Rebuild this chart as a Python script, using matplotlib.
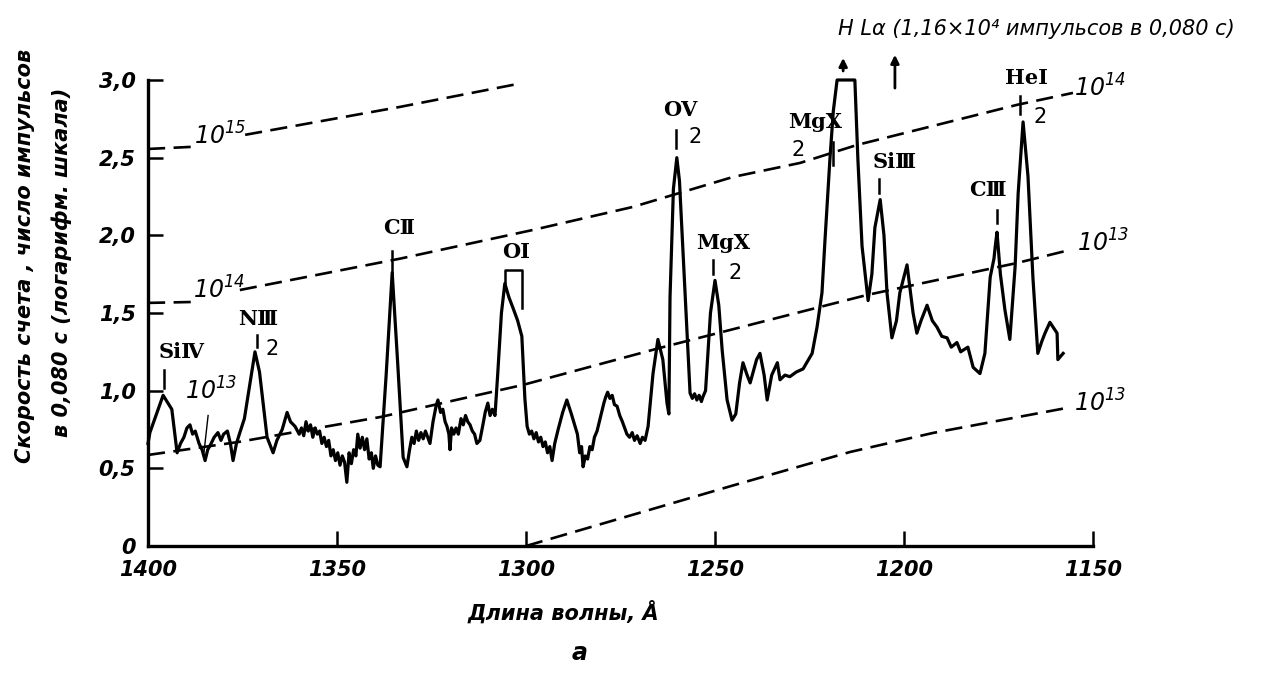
import matplotlib
matplotlib.use("Agg")
import matplotlib.pyplot as plt

plt.rcParams['font.family'] = ['DejaVu Sans']
plt.rcParams['mathtext.fontset'] = 'custom'
plt.rcParams['mathtext.rm'] = 'DejaVu Sans:italic'
plt.rcParams['mathtext.it'] = 'DejaVu Sans:italic'

# ---- spectrum: wavelength (Angstrom) and count rate (log scale units) ----
wavelength = [
    1400.0, 1399.5, 1396.0, 1393.7, 1392.3, 1391.4, 1390.5, 1389.7, 1388.9, 1388.2,
    1387.5, 1386.5, 1385.7, 1384.9, 1384.2, 1383.5, 1382.5, 1381.5, 1380.7, 1380.0,
    1379.0, 1378.2, 1377.5, 1376.6, 1375.7, 1374.5, 1373.0, 1371.7, 1370.5, 1368.5,
    1366.9, 1365.9, 1364.5, 1363.2, 1362.3, 1361.1, 1360.0,
    1359.4, 1358.8, 1358.2, 1357.6, 1357.0, 1356.4, 1355.8, 1355.2, 1354.6, 1354.0,
    1353.4, 1352.8, 1352.2, 1351.6, 1351.0, 1350.4, 1349.8, 1349.2, 1348.6, 1348.0,
    1347.4, 1346.8, 1346.2, 1345.6, 1345.0, 1344.5, 1343.9, 1343.3, 1342.7, 1342.1,
    1341.5, 1340.9, 1340.4, 1339.8, 1339.2, 1338.6,
    1337.0, 1335.4, 1334.0, 1332.5,
    1331.5, 1330.8, 1330.2, 1329.6, 1329.0, 1328.4, 1327.8, 1327.2, 1326.6, 1326.0,
    1325.4, 1324.6, 1323.8, 1323.3, 1322.6, 1322.0, 1321.4, 1320.9, 1320.4, 1320.1,
    1319.7, 1319.1, 1318.5, 1317.9, 1317.2, 1316.6, 1316.0, 1315.4, 1314.8, 1314.2,
    1313.6, 1313.0, 1312.2, 1311.4, 1310.8, 1310.1, 1309.5, 1308.9, 1308.2,
    1307.5, 1306.5, 1305.6, 1304.5, 1303.4, 1302.2, 1301.1, 1300.3,
    1299.7, 1299.1, 1298.5, 1297.9, 1297.3, 1296.7, 1296.1, 1295.5, 1294.9, 1294.3,
    1293.7, 1293.1, 1292.4,
    1291.5, 1290.3, 1289.2, 1288.0, 1287.0,
    1286.4, 1285.8, 1285.3, 1284.9, 1284.3, 1283.7, 1283.1, 1282.5, 1281.9, 1281.2,
    1280.6, 1280.0, 1279.4, 1278.9, 1278.4, 1277.8, 1277.2, 1276.6, 1275.9, 1275.2,
    1274.5, 1273.9, 1273.3, 1272.6, 1271.9, 1271.3, 1270.6, 1269.8, 1269.2, 1268.5,
    1267.7,
    1266.4, 1265.1, 1263.8, 1262.7, 1262.2, 1261.9, 1261.0, 1260.1, 1259.4, 1258.7,
    1257.4,
    1256.6, 1256.0, 1255.4, 1254.8, 1254.2, 1253.6, 1253.2, 1252.5,
    1251.2, 1250.0, 1249.0, 1248.1, 1246.8, 1245.5, 1244.5, 1243.5, 1242.6, 1241.5,
    1240.7, 1239.0, 1238.1, 1237.0, 1236.2, 1235.0, 1233.5, 1232.8, 1231.5, 1230.2,
    1228.5, 1226.7, 1224.3, 1223.0, 1221.7, 1220.9, 1219.6, 1218.7, 1217.7, 1213.0,
    1212.2, 1211.1, 1209.5, 1208.5, 1207.7, 1206.3, 1205.3, 1204.5, 1203.2, 1202.0,
    1201.1, 1199.2, 1197.6, 1196.6, 1195.5, 1193.9, 1192.5, 1191.3, 1190.0, 1188.6,
    1187.5, 1186.0, 1185.0, 1184.4, 1183.1, 1181.7, 1179.9, 1178.6, 1177.2, 1176.2,
    1175.9, 1175.4, 1174.5, 1173.3, 1172.0, 1170.6, 1169.8, 1168.5, 1167.2, 1165.9,
    1164.6, 1163.5, 1162.7, 1161.4, 1160.3, 1159.5, 1159.3, 1157.9,
]
counts = [
    0.66, 0.73, 0.97, 0.88, 0.60, 0.66, 0.70, 0.76, 0.78, 0.72,
    0.74, 0.66, 0.62, 0.55, 0.62, 0.65, 0.70, 0.73, 0.68, 0.72,
    0.74, 0.66, 0.55, 0.66, 0.73, 0.82, 1.05, 1.25, 1.12, 0.70,
    0.60, 0.68, 0.75, 0.86, 0.80, 0.77, 0.72,
    0.76, 0.71, 0.80, 0.74, 0.78, 0.70, 0.76, 0.72, 0.74, 0.66,
    0.70, 0.64, 0.68, 0.58, 0.62, 0.55, 0.60, 0.52, 0.58, 0.54,
    0.41, 0.60, 0.53, 0.62, 0.58, 0.72, 0.63, 0.70, 0.62, 0.69,
    0.56, 0.60, 0.50, 0.58, 0.52, 0.51,
    1.10, 1.76, 1.20, 0.57,
    0.51, 0.62, 0.70, 0.66, 0.74, 0.68, 0.73, 0.69, 0.74, 0.70,
    0.66, 0.80, 0.90, 0.94, 0.86, 0.88, 0.80, 0.77, 0.72, 0.62,
    0.76, 0.72, 0.76, 0.72, 0.82, 0.78, 0.84, 0.80, 0.78, 0.74,
    0.72, 0.66, 0.68, 0.78, 0.86, 0.92, 0.84, 0.88, 0.84,
    1.10, 1.50, 1.69, 1.60, 1.53, 1.45, 1.35, 0.95,
    0.77, 0.72, 0.74, 0.69, 0.73, 0.67, 0.70, 0.64, 0.67, 0.60,
    0.64, 0.55, 0.66,
    0.75, 0.86, 0.94, 0.85, 0.77,
    0.72, 0.60, 0.64, 0.51, 0.58, 0.56, 0.64, 0.62, 0.70, 0.74,
    0.80, 0.86, 0.92, 0.96, 0.99, 0.95, 0.97, 0.91, 0.90, 0.84,
    0.80, 0.76, 0.72, 0.70, 0.73, 0.68, 0.71, 0.66, 0.70, 0.68,
    0.77,
    1.11, 1.33, 1.20, 0.92, 0.85, 1.60, 2.30, 2.50, 2.35, 2.01,
    1.37,
    0.985, 0.95, 0.98, 0.94, 0.97, 0.93, 0.96, 1.00,
    1.50, 1.71, 1.55, 1.26, 0.94, 0.81, 0.85, 1.05, 1.18, 1.10,
    1.05, 1.20, 1.24, 1.10, 0.94, 1.10, 1.18, 1.07, 1.10, 1.09,
    1.12, 1.14, 1.24, 1.41, 1.63, 1.97, 2.49, 2.80, 3.00, 3.00,
    2.49, 1.93, 1.58, 1.75, 2.05, 2.23, 2.00, 1.63, 1.34, 1.45,
    1.63, 1.81, 1.50, 1.37, 1.45, 1.55, 1.45, 1.41, 1.35, 1.34,
    1.28, 1.31, 1.25, 1.26, 1.28, 1.15, 1.11, 1.24, 1.73, 1.85,
    1.92, 2.02, 1.75, 1.52, 1.33, 1.80, 2.27, 2.73, 2.38, 1.73,
    1.24, 1.32, 1.37, 1.44, 1.40, 1.37, 1.20, 1.24,
]

# ---- curves of constant emission measure (dashed), split where labelled ----
em15_wl = [1400.0, 1388.1, 1374.3, 1333.3, 1302.1]
em15_val = [2.556, 2.570, 2.647, 2.827, 2.975]
em15_gap = 2            # index where the curve resumes after its label

em14_wl = [1400.0, 1388.1, 1375.7, 1333.3, 1298.1, 1271.7, 1245.2, 1227.5,
           1212.4, 1170.1, 1155.3]
em14_val = [1.565, 1.571, 1.648, 1.850, 2.035, 2.183, 2.376, 2.466,
            2.582, 2.840, 2.917]
em14_gap = 2

em13_wl = [1400.0, 1376.0, 1338.6, 1300.8, 1264.6, 1222.2, 1209.8, 1170.1, 1156.1]
em13_val = [0.586, 0.670, 0.830, 1.037, 1.275, 1.539, 1.616, 1.822, 1.906]

em12_wl = [1300.0, 1245.2, 1214.3, 1192.3, 1156.9]
em12_val = [0.000, 0.390, 0.605, 0.728, 0.889]

# ---- axis ticks ----
yticks = [0, 0.5, 1.0, 1.5, 2.0, 2.5, 3.0]
ytick_labels = ['0', '0,5', '1,0', '1,5', '2,0', '2,5', '3,0']
xticks = [1400, 1350, 1300, 1250, 1200, 1150]
xtick_labels = ['1400', '1350', '1300', '1250', '1200', '1150']

# ---- line identifications ----
ion_names = ['SiⅣ', 'NⅢ', 'CⅡ', 'OⅠ', 'OⅤ', 'MgⅩ', 'MgⅩ', 'SiⅢ', 'CⅢ', 'HeⅠ']
ion_label_wl = [1391.0, 1370.9, 1333.6, 1302.6, 1259.3, 1247.9, 1223.5, 1202.4, 1177.8, 1167.5]
ion_label_y = [1.25, 1.46, 2.05, 1.89, 2.81, 1.95, 2.73, 2.47, 2.29, 3.01]
ion_tick_wl = [1395.8, 1371.2, 1335.4, None, 1260.3, 1250.5, 1218.8, 1206.6, 1175.4, 1169.3]
ion_tick_lo = [1.02, 1.28, 1.76, None, 2.56, 1.75, 2.45, 2.27, 2.08, 2.78]
ion_tick_hi = [1.13, 1.36, 1.90, None, 2.68, 1.84, 2.60, 2.36, 2.16, 2.90]
# second-order markers ("2")
order2_wl = [1367.2, 1255.3, 1244.7, 1228.0, 1164.0]
order2_y = [1.27, 2.63, 1.76, 2.55, 2.76]

# ---- emission-measure labels ----
em_labels = [r'$10^{15}$', r'$10^{14}$', r'$10^{13}$',
             r'$10^{14}$', r'$10^{13}$', r'$10^{13}$']
em_label_wl = [1381.0, 1381.2, 1383.3, 1148.1, 1147.4, 1148.1]
em_label_y = [2.64, 1.65, 1.00, 2.95, 1.95, 0.92]

fig = plt.figure(figsize=(12.62, 6.75), dpi=100)
ax = fig.add_axes([148 / 1262, 1 - 546 / 675, (1093 - 148) / 1262, (546 - 80) / 675])
ax.set_xlim(1400, 1150)
ax.set_ylim(0, 3.0)

for side in ('top', 'right'):
    ax.spines[side].set_visible(False)
for side in ('left', 'bottom'):
    ax.spines[side].set_linewidth(2.4)

tick_font = dict(family='DejaVu Sans', style='italic', weight='bold', size=15)
ax.set_yticks(yticks)
ax.set_yticklabels(ytick_labels, **tick_font)
ax.set_xticks(xticks)
ax.set_xticklabels(xtick_labels, **tick_font)
ax.tick_params(axis='both', direction='in', length=11, width=1.8)
ax.tick_params(axis='y', pad=9)
ax.tick_params(axis='x', pad=10)

dash = (0, (6.5, 3.2))
dkw = dict(color='black', lw=1.9, linestyle=dash, clip_on=False)
ax.plot(em15_wl[:em15_gap], em15_val[:em15_gap], **dkw)
ax.plot(em15_wl[em15_gap:], em15_val[em15_gap:], **dkw)
ax.plot(em14_wl[:em14_gap], em14_val[:em14_gap], **dkw)
ax.plot(em14_wl[em14_gap:], em14_val[em14_gap:], **dkw)
ax.plot(em13_wl, em13_val, **dkw)
ax.plot(em12_wl, em12_val, **dkw)

ax.plot(wavelength, counts, color='black', lw=2.3, solid_joinstyle='round',
        clip_on=False, zorder=3)

lab_font = dict(family='DejaVu Serif', weight='bold', size=15)
for name, x, y in zip(ion_names, ion_label_wl, ion_label_y):
    ax.text(x, y, name, ha='center', va='center', clip_on=False, **lab_font)
for x, lo, hi in zip(ion_tick_wl, ion_tick_lo, ion_tick_hi):
    if x is not None:
        ax.plot([x, x], [lo, hi], color='black', lw=1.8, clip_on=False)
for x, y in zip(order2_wl, order2_y):
    ax.text(x, y, '2', ha='center', va='center', clip_on=False,
            family='DejaVu Sans', size=15)

# bracket over the O I doublet
ax.plot([1305.6, 1305.6, 1301.1, 1301.1], [1.69, 1.78, 1.78, 1.53],
        color='black', lw=1.8, clip_on=False)

for lab, x, y in zip(em_labels, em_label_wl, em_label_y):
    ax.text(x, y, lab, ha='center', va='center', size=17, clip_on=False)
ax.plot([1384.1, 1385.2], [0.84, 0.60], color='black', lw=1.0)

# H L-alpha off scale
arrow = dict(arrowstyle='-|>', lw=2.0, color='black', mutation_scale=12)
ax.annotate('', xy=(1216.1, 3.16), xytext=(1216.1, 3.04), arrowprops=arrow,
            annotation_clip=False)
ax.annotate('', xy=(1202.4, 3.18), xytext=(1202.4, 2.93), arrowprops=arrow,
            annotation_clip=False)
ax.text(1217.5, 3.33, 'H Lα (1,16×10⁴ импульсов в 0,080 с)', ha='left', va='center',
        style='italic', size=15, clip_on=False)

lbl_font = dict(family='DejaVu Sans', style='italic', weight='bold', size=15)
fig.text(25 / 1262, 1 - 256 / 675, 'Скорость счета , число импульсов',
         rotation=90, ha='center', va='center', **lbl_font)
fig.text(62 / 1262, 1 - 262 / 675, 'в 0,080 с (логарифм. шкала)',
         rotation=90, ha='center', va='center', **lbl_font)
fig.text(563 / 1262, 1 - 612 / 675, 'Длина волны, Å', ha='center', va='center',
         **lbl_font)
fig.text(580 / 1262, 1 - 653 / 675, 'а', ha='center', va='center',
         family='DejaVu Sans', style='italic', weight='bold', size=17)

fig.savefig('out.png', dpi=100, facecolor='white')
